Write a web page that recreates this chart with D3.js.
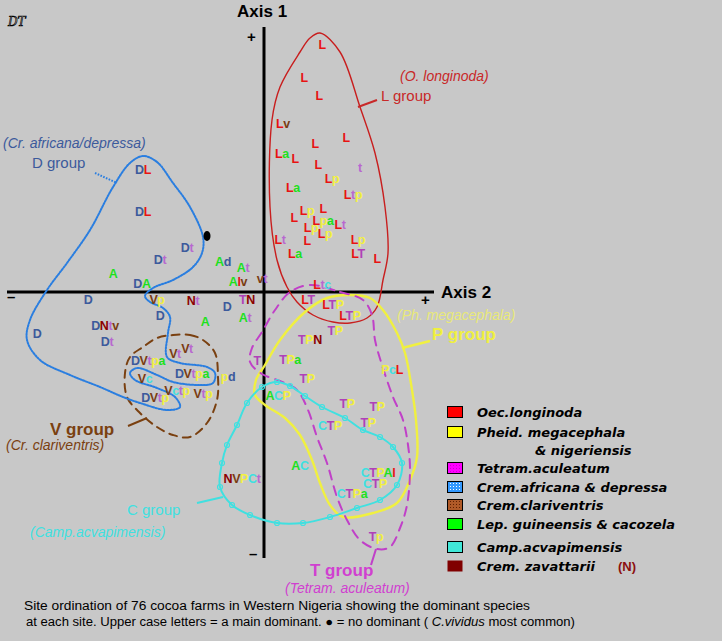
<!DOCTYPE html>
<html>
<head>
<meta charset="utf-8">
<script src="https://cdn.jsdelivr.net/npm/d3@7"></script>
<style>
  body { margin: 0; background: #c8c8c8; }
  svg { display: block; }
</style>
</head>
<body>
<svg id="chart" width="722" height="641"></svg>
<script>
// --------------------------------------
// site scores (axis 2 = x, axis 1 = y) and the dominant-species code of each site
// upper case = main dominant, lower case = secondary
const siteLabels = [
  "L","L","L","Lv","L","L","La","L","L","t","Lp","La","Ltp","Lp","L","L","Lpa","Lt","Lp","Lp",
  "Lt","L","Lp","La","LT","L","Ltc",
  "LT","LTP","LTP","TP","TPN","T","TPa","PcL","TP","ACP","TP","TP","TP","CTP",
  "AC","NVPCt","CTPAl","CTP","CTPa","Tp",
  "DL","DL","Dt","Dt","A","DA","Ad","At","Alv","vt","D","Vp","Nt","D","TN","D","A","At","DNtv","D","Dt",
  "Vt","Vt","DVtpa","Vc","DVtpa","pd","Vctp","Vtp","DVtp"
];
const siteX = [
  0.58,0.40,0.55,0.19,0.82,0.51,0.18,0.31,0.54,0.96,0.68,0.29,0.89,0.43,0.59,0.30,0.59,0.76,0.47,0.61,
  0.16,0.43,0.94,0.31,0.94,1.13,0.58,
  0.44,0.69,0.86,0.71,0.46,-0.07,0.26,1.28,0.43,0.14,0.83,1.13,1.04,0.66,
  0.36,-0.22,1.14,1.11,0.88,1.12,
  -1.21,-1.21,-0.77,-1.04,-1.51,-1.22,-0.41,-0.21,-0.26,-0.02,-1.76,-1.07,-0.71,-0.37,-0.17,-1.04,-0.59,-0.19,-1.59,-2.27,-1.57,
  -0.77,-0.89,-1.16,-1.19,-0.72,-0.36,-0.87,-0.61,-1.09
];
const siteY = [
  2.48,2.15,1.97,1.69,1.55,1.49,1.39,1.34,1.28,1.25,1.14,1.05,0.98,0.82,0.84,0.75,0.72,0.68,0.65,0.59,
  0.53,0.52,0.53,0.39,0.39,0.34,0.08,
  -0.07,-0.12,-0.23,-0.38,-0.47,-0.68,-0.67,-0.77,-0.86,-1.03,-1.11,-1.14,-1.30,-1.33,
  -1.73,-1.86,-1.80,-1.91,-2.01,-2.44,
  1.23,0.81,0.45,0.33,0.19,0.09,0.31,0.25,0.11,0.14,-0.07,-0.07,-0.08,-0.14,-0.07,-0.23,-0.29,-0.25,-0.33,-0.41,-0.49,
  -0.56,-0.61,-0.68,-0.86,-0.81,-0.84,-0.98,-1.01,-1.05
];
// the one site with no dominant
const noDominant = [-0.57, 0.56];

// group outlines
const lGroup = [[0.56,2.59],[0.76,2.40],[0.96,1.85],[1.11,1.39],[1.21,0.85],[1.24,0.39],[1.19,0.12],[1.13,-0.15],
  [1.03,-0.26],[0.86,-0.31],[0.69,-0.30],[0.49,-0.23],[0.33,-0.10],[0.23,0.05],[0.13,0.32],[0.06,0.85],[0.08,1.72],
  [0.16,2.05],[0.36,2.40],[0.46,2.54]];
const dGroup = [[-1.21,1.36],[-1.07,1.30],[-0.91,1.09],[-0.74,0.85],[-0.61,0.55],[-0.62,0.39],[-0.71,0.25],[-0.91,0.12],
  [-1.11,0.04],[-1.19,-0.04],[-1.14,-0.10],[-1.01,-0.16],[-0.94,-0.25],[-0.96,-0.41],[-0.97,-0.65],[-0.84,-0.71],
  [-0.57,-0.75],[-0.49,-0.81],[-0.51,-0.91],[-0.64,-0.93],[-0.91,-0.90],[-1.07,-0.83],[-1.27,-0.76],[-1.34,-0.81],
  [-1.29,-0.88],[-1.07,-0.96],[-0.89,-1.05],[-0.84,-1.15],[-0.97,-1.18],[-1.24,-1.11],[-1.41,-1.05],[-1.64,-0.95],
  [-1.94,-0.83],[-2.24,-0.68],[-2.37,-0.48],[-2.34,-0.28],[-2.17,0.02],[-1.97,0.29],[-1.74,0.62],[-1.51,1.05],[-1.34,1.29]];
const vGroup = [[-0.91,-0.43],[-0.74,-0.43],[-0.61,-0.48],[-0.49,-0.61],[-0.46,-0.85],[-0.47,-1.08],[-0.57,-1.31],
  [-0.74,-1.45],[-0.91,-1.43],[-1.07,-1.35],[-1.24,-1.21],[-1.37,-1.05],[-1.39,-0.81],[-1.34,-0.65],[-1.21,-0.55],[-1.07,-0.46]];
const pGroup = [[0.86,-0.03],[1.06,-0.06],[1.19,-0.18],[1.33,-0.41],[1.41,-0.61],[1.48,-0.98],[1.52,-1.28],[1.53,-1.65],
  [1.46,-1.88],[1.33,-2.11],[1.09,-2.21],[0.79,-2.25],[0.66,-2.13],[0.56,-1.91],[0.48,-1.68],[0.36,-1.43],[0.21,-1.26],
  [0.01,-1.13],[-0.09,-1.03],[-0.08,-0.88],[0.01,-0.73],[0.16,-0.48],[0.41,-0.20],[0.63,-0.06]];
const tGroup = [[0.46,0.07],[0.76,0.00],[0.99,-0.08],[1.08,-0.23],[1.11,-0.48],[1.18,-0.73],[1.29,-1.05],[1.39,-1.28],
  [1.44,-1.53],[1.46,-1.78],[1.43,-2.13],[1.36,-2.36],[1.26,-2.55],[1.13,-2.57],[0.96,-2.48],[0.83,-2.28],[0.73,-2.05],
  [0.63,-1.71],[0.53,-1.45],[0.44,-1.18],[0.33,-0.98],[0.16,-0.89],[-0.02,-0.82],[-0.14,-0.70],[-0.12,-0.56],
  [-0.02,-0.40],[0.11,-0.18],[0.26,0.00]];
const cGroup = [[-0.27,-1.33],[-0.17,-1.11],[-0.02,-0.95],[0.13,-0.90],[0.26,-0.94],[0.41,-1.04],[0.58,-1.15],[0.81,-1.26],
  [0.99,-1.38],[1.16,-1.45],[1.29,-1.55],[1.38,-1.71],[1.33,-1.93],[1.16,-2.08],[0.93,-2.16],[0.66,-2.25],[0.39,-2.31],
  [0.13,-2.31],[-0.14,-2.23],[-0.32,-2.13],[-0.44,-1.95],[-0.42,-1.71],[-0.37,-1.53]];

// group names and the little pointer lines
const groupNames = ["L group","D group","V group","P group","C group","T group"];
const groupSpecies = ["(O. longinoda)","(Cr. africana/depressa)","(Cr. clariventris)","(Ph. megacephala)","(Camp.acvapimensis)","(Tetram. aculeatum)"];
const pointers = [
  [[0.94,1.85],[1.13,1.92]],
  [[-1.69,1.19],[-1.47,1.09]],
  [[-1.36,-1.34],[-1.17,-1.26]],
  [[1.38,-0.56],[1.66,-0.49]],
  [[-0.41,-2.05],[-0.67,-2.11]],
  [[1.12,-2.57],[1.07,-2.73]]
];

// legend
const legendNames = ["Oec.longinoda","Pheid. megacephala","Tetram.aculeatum","Crem.africana & depressa",
  "Crem.clariventris","Lep. guineensis & cacozela","Camp.acvapimensis","Crem. zavattarii"];
// --------------------------------------

const letterColor = {
  L: "#e81212", P: "#f2f040", T: "#b040b8", D: "#3c5a9c",
  V: "#7a3c12", A: "#1ee01e", C: "#40e0e0", N: "#8c0000"
};
function charColor(ch) {
  if (ch === "t") return "#b868d0";
  return letterColor[ch.toUpperCase()] || "#000";
}

const svg = d3.select("#chart");
const x = d3.scaleLinear().domain([-2.6, 1.7]).range([4, 434]);
const y = d3.scaleLinear().domain([2.62, -2.66]).range([30, 558]);

// texture patterns for the legend boxes
const defs = svg.append("defs");
[["pt-mag", "#ff00ff", "#d000d0"], ["pt-blue", "#3399ff", "#ffffff"], ["pt-brown", "#b05a28", "#602000"]]
  .forEach(([id, bg, dot]) => {
    const p = defs.append("pattern").attr("id", id).attr("width", 3).attr("height", 3)
      .attr("patternUnits", "userSpaceOnUse");
    p.append("rect").attr("width", 3).attr("height", 3).attr("fill", bg);
    p.append("rect").attr("width", 1).attr("height", 1).attr("fill", dot);
  });

svg.append("rect").attr("width", 722).attr("height", 641).attr("fill", "#c8c8c8");

// signature
svg.append("text").attr("x", 8).attr("y", 26)
  .style("font-family", "DejaVu Serif").style("font-style", "italic").style("font-size", "12px")
  .style("fill", "none").style("stroke", "#000").style("stroke-width", 0.7)
  .text("DT");

// axes
const x0 = x(0), y0 = y(0);
svg.append("line").attr("x1", x.range()[0] + 3).attr("x2", x.range()[1]).attr("y1", y0).attr("y2", y0)
  .attr("stroke", "#000").attr("stroke-width", 3);
svg.append("line").attr("x1", x0).attr("x2", x0).attr("y1", y.range()[0] - 3).attr("y2", y.range()[1])
  .attr("stroke", "#000").attr("stroke-width", 3);

const axisText = (t, px, py, size) => svg.append("text").attr("x", px).attr("y", py)
  .style("font-family", "Liberation Sans, Arial").style("font-weight", "bold")
  .style("font-size", size + "px").style("fill", "#000").text(t);
axisText("Axis 1", x0 - 27, 17, 17);
axisText("Axis 2", x.range()[1] + 7, y0 + 6, 17);
axisText("+", x0 - 17, 42, 15);
axisText("+", x.range()[1] - 13, y0 + 13, 15);
axisText("\u2013", 7, y0 + 10, 15);
axisText("\u2013", x0 - 15, y.range()[1] + 1, 15);

// outlines
const closed = d3.line().x(d => x(d[0])).y(d => y(d[1])).curve(d3.curveCatmullRomClosed.alpha(0.5));
const outline = (pts, color, width, dash) => svg.append("path").attr("d", closed(pts))
  .attr("fill", "none").attr("stroke", color).attr("stroke-width", width)
  .attr("stroke-dasharray", dash || null).attr("stroke-linecap", "round");

outline(lGroup, "#c81e1e", 1.4);
outline(pGroup, "#f0f040", 2.4);
outline(tGroup, "#c040c8", 2, "9,7");
outline(vGroup, "#7a4010", 2, "8,6");
outline(cGroup, "#40e0e0", 2);
svg.append("g").selectAll("circle").data(cGroup).join("circle")
  .attr("cx", d => x(d[0])).attr("cy", d => y(d[1])).attr("r", 2.5)
  .attr("fill", "none").attr("stroke", "#40e0e0").attr("stroke-width", 1.2);
outline(dGroup, "#2a7ee0", 2, "1.6,1.4");

// pointer lines
const groupColor = ["#c82828", "#2a7ee0", "#7a4010", "#f0f040", "#40e0e0", "#c040c8"];
pointers.forEach((p, i) => {
  svg.append("line").attr("x1", x(p[0][0])).attr("y1", y(p[0][1]))
    .attr("x2", x(p[1][0])).attr("y2", y(p[1][1]))
    .attr("stroke", groupColor[i]).attr("stroke-width", i === 3 ? 2.5 : 2)
    .attr("stroke-dasharray", i === 1 ? "1.6,1.4" : null);
});

// group labels
const nameAt = [[1.17, 1.91], [-2.32, 1.24], [-2.14, -1.43], [1.68, -0.48], [-1.37, -2.23], [0.46, -2.84]];
const speciesAt = [[1.36, 2.11], [-2.61, 1.44], [-2.58, -1.58], [1.33, -0.28], [-2.34, -2.45], [0.21, -3.01]];
const nameStyle = [
  { c: "#c82828", w: "normal", s: 15 }, { c: "#3c5a9c", w: "normal", s: 15 },
  { c: "#7a4010", w: "bold", s: 17 }, { c: "#f0f040", w: "bold", s: 17 },
  { c: "#40e0e0", w: "normal", s: 15 }, { c: "#d040d0", w: "bold", s: 17 }
];
const speciesColor = ["#c82828", "#3c5a9c", "#7a4010", "#e8e878", "#40e0e0", "#d040d0"];
groupNames.forEach((g, i) => {
  svg.append("text").attr("x", x(nameAt[i][0])).attr("y", y(nameAt[i][1]))
    .style("font-family", "Liberation Sans, Arial").style("font-size", nameStyle[i].s + "px")
    .style("font-weight", nameStyle[i].w).style("fill", nameStyle[i].c).text(g);
  svg.append("text").attr("x", x(speciesAt[i][0])).attr("y", y(speciesAt[i][1]))
    .style("font-family", "Liberation Sans, Arial").style("font-size", "14px")
    .style("font-style", "italic").style("fill", speciesColor[i]).text(groupSpecies[i]);
});

// sites
const sites = siteLabels.map((s, i) => ({ s, x: siteX[i], y: siteY[i] }));
const st = svg.append("g").selectAll("text").data(sites).join("text")
  .attr("x", d => x(d.x)).attr("y", d => y(d.y) + 5)
  .attr("text-anchor", "middle")
  .style("font-family", "Liberation Sans, Arial").style("font-weight", "bold")
  .style("font-size", "12.5px").style("letter-spacing", "-0.4px");
st.selectAll("tspan").data(d => d.s.split("")).join("tspan")
  .style("fill", ch => charColor(ch)).text(ch => ch);

svg.append("ellipse").attr("cx", x(noDominant[0])).attr("cy", y(noDominant[1]))
  .attr("rx", 3.5).attr("ry", 5).attr("fill", "#000");

// legend
const lg = svg.append("g").attr("transform", "translate(447,405)");
const rowY = [0, 20, 56, 75, 93, 112, 135, 154];
const boxFill = ["#ff0000", "#ffff00", "url(#pt-mag)", "url(#pt-blue)", "url(#pt-brown)", "#00ff00", "#40e8d8", "#800000"];
legendNames.forEach((n, i) => {
  lg.append("rect").attr("x", 0.5).attr("y", rowY[i] + 1.5).attr("width", 15).attr("height", 11)
    .attr("fill", boxFill[i]).attr("stroke", i === 7 ? "none" : "#000").attr("stroke-width", 1);
  lg.append("text").attr("x", 30).attr("y", rowY[i] + 12)
    .style("font-family", "DejaVu Sans").style("font-weight", "bold").style("font-style", "italic")
    .style("font-size", "13px").style("fill", "#000").text(n);
});
lg.append("text").attr("x", 88).attr("y", rowY[1] + 30)
  .style("font-family", "DejaVu Sans").style("font-weight", "bold").style("font-style", "italic")
  .style("font-size", "13px").style("fill", "#000").text("& nigeriensis");
lg.append("text").attr("x", 171).attr("y", rowY[7] + 12)
  .style("font-family", "Liberation Sans, Arial").style("font-weight", "bold")
  .style("font-size", "13px").style("fill", "#8c1010").text("(N)");

// caption
const cap = (t, px, py, len) => svg.append("text").attr("x", px).attr("y", py)
  .attr("textLength", len).attr("lengthAdjust", "spacingAndGlyphs")
  .style("font-family", "Liberation Sans Narrow, Liberation Sans, Arial").style("font-size", "12.5px")
  .style("fill", "#000").text(t);
cap("Site ordination of 76 cocoa farms in Western Nigeria showing the dominant species", 24, 610, 506);
const c2 = cap("", 26, 626, 549);
c2.append("tspan").text("at each site.  Upper case letters = a main dominant.  \u25CF = no dominant ( ");
c2.append("tspan").style("font-style", "italic").text("C.vividus");
c2.append("tspan").text(" most common)");
</script>
</body>
</html>
